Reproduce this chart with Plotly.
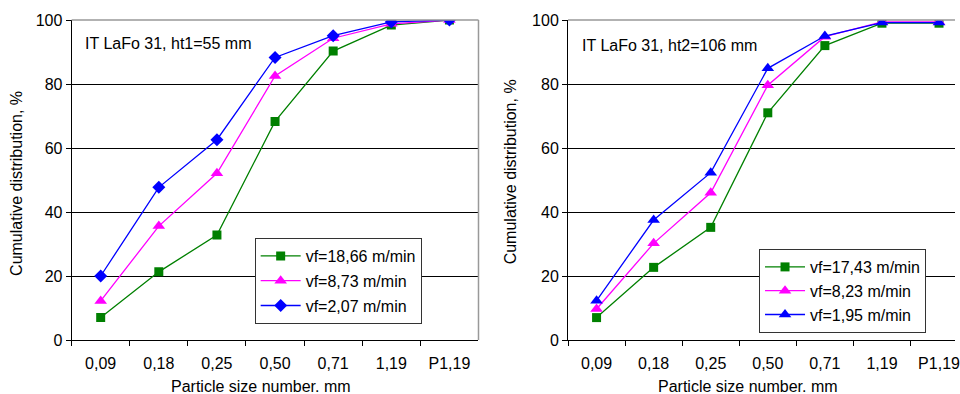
import plotly.graph_objects as go

categories = ["0,09", "0,18", "0,25", "0,50", "0,71", "1,19", "P1,19"]

# Left chart: IT LaFo 31, ht1=55 mm
left_names = ["vf=18,66 m/min", "vf=8,73 m/min", "vf=2,07 m/min"]
left_green = [7.0, 21.3, 32.8, 68.3, 90.3, 98.4, 100.0]
left_magenta = [12.2, 35.6, 52.1, 82.5, 94.3, 98.8, 100.0]
left_blue = [20.0, 47.7, 62.6, 88.3, 95.1, 99.4, 100.0]

# Right chart: IT LaFo 31, ht2=106 mm
right_names = ["vf=17,43 m/min", "vf=8,23 m/min", "vf=1,95 m/min"]
right_green = [7.0, 22.7, 35.2, 71.0, 92.0, 99.0, 99.0]
right_magenta = [9.7, 30.2, 46.0, 79.6, 94.8, 99.4, 99.4]
right_blue = [12.3, 37.5, 52.3, 84.9, 95.0, 99.2, 99.2]

y_ticks = [0, 20, 40, 60, 80, 100]

GREEN = "#008000"
MAGENTA = "#FF00FF"
BLUE = "#0000FF"
FONT = "Liberation Sans, Arial, sans-serif"
FS = 16

fig = go.Figure()

def add(x_ax, y_ax, name, ys, color, symbol, legend, group, size):
    fig.add_trace(go.Scatter(
        x=categories, y=ys, name=name, mode="lines+markers",
        xaxis=x_ax, yaxis=y_ax, legend=legend, legendgroup=group,
        line=dict(color=color, width=1.3),
        marker=dict(color=color, symbol=symbol, size=size, line=dict(width=0)),
    ))

add("x", "y", left_names[0], left_green, GREEN, "square", "legend", "a", 9)
add("x", "y", left_names[1], left_magenta, MAGENTA, "triangle-up", "legend", "b", 11)
add("x", "y", left_names[2], left_blue, BLUE, "diamond", "legend", "c", 10)
add("x2", "y2", right_names[0], right_green, GREEN, "square", "legend2", "d", 9)
add("x2", "y2", right_names[1], right_magenta, MAGENTA, "triangle-up", "legend2", "e", 11)
add("x2", "y2", right_names[2], right_blue, BLUE, "triangle-up", "legend2", "f", 11)

W, H = 960, 394
T, B = 20, 54
def px(x):
    return x / W
def py(y):
    return (H - B - y) / (H - T - B)

xaxis_common = dict(
    type="category", categoryorder="array", categoryarray=categories,
    showgrid=False, showline=True, linecolor="#000000", linewidth=1,
    ticks="outside", ticklen=5, tickcolor="#000000", tickson="boundaries",
    tickfont=dict(family=FONT, size=FS, color="#000000"),
    ticklabelstandoff=9,
    zeroline=False, fixedrange=True,
)
yaxis_common = dict(
    range=[0, 100], tickvals=y_ticks, showgrid=True, gridcolor="#000000", gridwidth=1,
    showline=True, linecolor="#000000", linewidth=1,
    ticks="outside", ticklen=5, tickcolor="#000000",
    tickfont=dict(family=FONT, size=FS, color="#000000"),
    zeroline=False, fixedrange=True,
)

fig.update_layout(
    width=W, height=H,
    margin=dict(l=0, r=0, t=T, b=B),
    paper_bgcolor="white", plot_bgcolor="white",
    font=dict(family=FONT, size=FS, color="#000000"),
    xaxis=dict(domain=[px(72), px(481)], range=[-0.5, 6.5], anchor="y", **xaxis_common),
    yaxis=dict(domain=[0, 1], anchor="x", **yaxis_common),
    xaxis2=dict(domain=[px(571), 1.0], range=[-0.5, 6.28], anchor="y2", **xaxis_common),
    yaxis2=dict(domain=[0, 1], anchor="x2", **yaxis_common),
    legend=dict(
        x=px(256), y=py(238), xanchor="left", yanchor="top",
        bgcolor="white", bordercolor="#333333", borderwidth=1,
        font=dict(family=FONT, size=FS, color="#000000"),
        tracegroupgap=1, itemwidth=40, entrywidth=120,
    ),
    legend2=dict(
        x=px(763), y=py(249), xanchor="left", yanchor="top",
        bgcolor="white", bordercolor="#333333", borderwidth=1,
        font=dict(family=FONT, size=FS, color="#000000"),
        tracegroupgap=0, itemwidth=40, entrywidth=140,
    ),
    showlegend=True,
)

# grey chart-area borders (top and right of left chart, top of right chart)
fig.add_shape(type="line", xref="x domain", yref="y domain", x0=0, x1=1, y0=1, y1=1,
              line=dict(color="#999999", width=1.5), layer="above")
fig.add_shape(type="line", xref="x domain", yref="y domain", x0=1, x1=1, y0=0, y1=1,
              line=dict(color="#999999", width=1.5), layer="above")
fig.add_shape(type="line", xref="x2 domain", yref="y2 domain", x0=0, x1=1, y0=1, y1=1,
              line=dict(color="#999999", width=1.5), layer="above")

ann_font = dict(family=FONT, size=FS, color="#000000")
fig.add_annotation(text="IT LaFo 31, ht1=55 mm", xref="paper", yref="paper",
                   x=px(83), y=py(44), xanchor="left", yanchor="middle", showarrow=False, font=ann_font)
fig.add_annotation(text="IT LaFo 31, ht2=106 mm", xref="paper", yref="paper",
                   x=px(583), y=py(45), xanchor="left", yanchor="middle", showarrow=False, font=ann_font)
fig.add_annotation(text="Particle size number. mm", xref="paper", yref="paper",
                   x=px(262), y=py(386), xanchor="center", yanchor="middle", showarrow=False, font=ann_font)
fig.add_annotation(text="Particle size number. mm", xref="paper", yref="paper",
                   x=px(752), y=py(386), xanchor="center", yanchor="middle", showarrow=False, font=ann_font)
fig.add_annotation(text="Cumulative distribution, %", xref="paper", yref="paper", textangle=-90,
                   x=px(16), y=py(183), xanchor="center", yanchor="middle", showarrow=False, font=ann_font)
fig.add_annotation(text="Cumulative distribution, %", xref="paper", yref="paper", textangle=-90,
                   x=px(513), y=py(172), xanchor="center", yanchor="middle", showarrow=False, font=ann_font)

fig.write_html("out.html", config={"displayModeBar": False},
               post_script="document.body.style.margin='0';document.body.style.overflow='hidden';")
